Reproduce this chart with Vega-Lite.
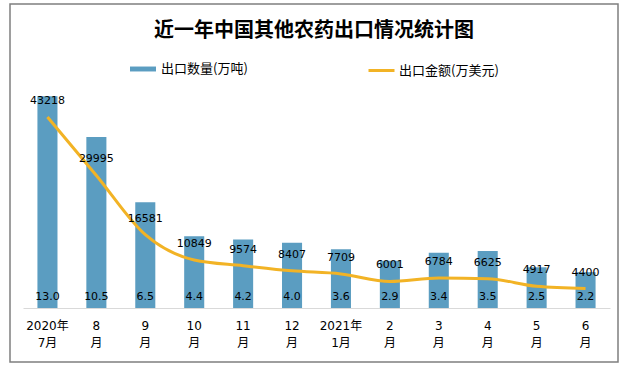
{
  "$schema": "https://vega.github.io/schema/vega-lite/v6.json",
  "width": 608,
  "height": 358,
  "autosize": {"type": "none"},
  "padding": {"left": 10, "top": 4, "right": 14, "bottom": 6},
  "background": "white",
  "config": {
    "view": {"stroke": "#7F7F7F", "strokeWidth": 1.5},
    "font": "DejaVu Sans, Noto Sans CJK SC"
  },
  "title": {
    "text": "近一年中国其他农药出口情况统计图",
    "font": "Noto Sans CJK SC",
    "fontSize": 20,
    "fontWeight": "bold",
    "color": "#000000",
    "anchor": "middle",
    "frame": "group",
    "baseline": "middle",
    "offset": -24,
    "dy": 23
  },
  "data": {
    "values": [
      {"月份": "2020年\n7月", "数量": 13.0, "金额": 43218},
      {"月份": "8\n月", "数量": 10.5, "金额": 29995},
      {"月份": "9\n月", "数量": 6.5, "金额": 16581},
      {"月份": "10\n月", "数量": 4.4, "金额": 10849},
      {"月份": "11\n月", "数量": 4.2, "金额": 9574},
      {"月份": "12\n月", "数量": 4.0, "金额": 8407},
      {"月份": "2021年\n1月", "数量": 3.6, "金额": 7709},
      {"月份": "2\n月", "数量": 2.9, "金额": 6001},
      {"月份": "3\n月", "数量": 3.4, "金额": 6784},
      {"月份": "4\n月", "数量": 3.5, "金额": 6625},
      {"月份": "5\n月", "数量": 2.5, "金额": 4917},
      {"月份": "6\n月", "数量": 2.2, "金额": 4400}
    ]
  },
  "encoding": {
    "x": {
      "field": "月份",
      "type": "nominal",
      "sort": null,
      "scale": {"range": [13, 600], "paddingInner": 0.59, "paddingOuter": 0.295},
      "axis": {
        "orient": "bottom",
        "offset": -54,
        "title": null,
        "domainColor": "#D9D9D9",
        "domainWidth": 1,
        "ticks": false,
        "labelAngle": 0,
        "labelPadding": 12,
        "labelFontSize": 12,
        "labelColor": "#000000",
        "labelFont": "DejaVu Sans, Noto Sans CJK SC",
        "labelLineHeight": 17,
        "labelBaseline": "top",
        "labelExpr": "split(datum.label, '\\n')"
      }
    }
  },
  "layer": [
    {
      "layer": [
        {
          "mark": {"type": "bar"},
          "encoding": {
            "y": {"field": "数量", "type": "quantitative", "scale": {"domain": [0, 14], "range": [304, 76], "nice": false}, "axis": null},
            "fill": {
              "datum": "出口数量(万吨)",
              "type": "nominal",
              "scale": {"range": ["#5B9DC1"]},
              "legend": {
                "orient": "none",
                "legendX": 120,
                "legendY": 52,
                "title": null,
                "symbolType": "M-1,-0.19H1V0.19H-1Z",
                "symbolSize": 676,
                "symbolStrokeWidth": 0,
                "labelFont": "Noto Sans CJK SC",
                "labelFontSize": 13,
                "labelColor": "#000000",
                "labelOffset": 5
              }
            }
          }
        },
        {
          "mark": {"type": "text", "color": "#000000", "fontSize": 11, "font": "DejaVu Sans", "dy": -11, "baseline": "middle"},
          "encoding": {
            "y": {"datum": 0, "type": "quantitative"},
            "text": {"field": "数量", "type": "quantitative", "format": ".1f"}
          }
        }
      ]
    },
    {
      "layer": [
        {
          "mark": {"type": "line", "interpolate": "monotone", "strokeWidth": 3},
          "encoding": {
            "y": {"field": "金额", "type": "quantitative", "scale": {"domain": [0, 51600], "range": [304, 76], "nice": false}, "axis": null},
            "stroke": {
              "datum": "出口金额(万美元)",
              "type": "nominal",
              "scale": {"range": ["#F2B325"]},
              "legend": {
                "orient": "none",
                "legendX": 357,
                "legendY": 52,
                "title": null,
                "symbolType": "stroke",
                "symbolSize": 676,
                "symbolStrokeWidth": 3,
                "labelFont": "Noto Sans CJK SC",
                "labelFontSize": 13,
                "labelColor": "#000000",
                "labelOffset": 3
              }
            }
          }
        },
        {
          "mark": {"type": "text", "color": "#000000", "fontSize": 11, "font": "DejaVu Sans", "dy": -16, "baseline": "middle"},
          "encoding": {
            "y": {"field": "金额", "type": "quantitative"},
            "text": {"field": "金额", "type": "quantitative", "format": "d"}
          }
        }
      ]
    }
  ],
  "resolve": {"scale": {"y": "independent"}}
}
